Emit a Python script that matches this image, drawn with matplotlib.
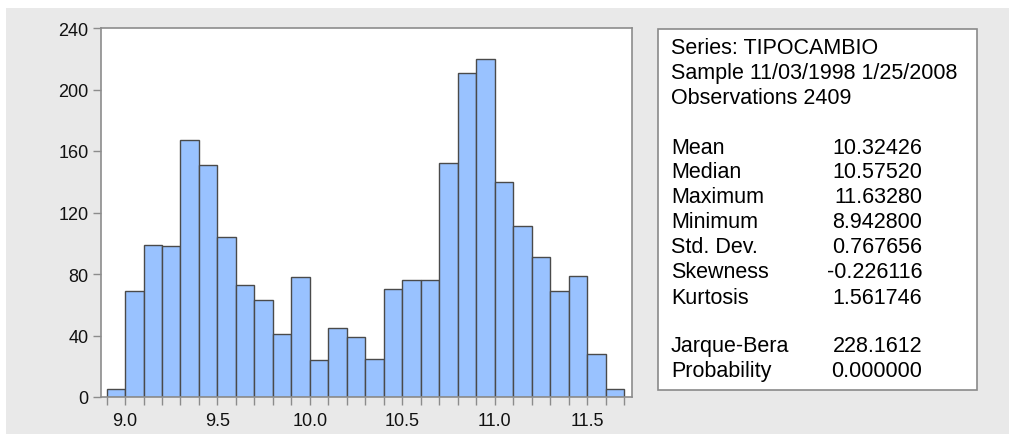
#!usr/bin/env python
#-*- coding:utf-8 -*-

# histogram of TIPOCAMBIO with the descriptive statistics box

import matplotlib
matplotlib.use('Agg')
import matplotlib.pyplot as plt
from matplotlib.patches import Rectangle

plt.rcParams['font.family'] = ['Liberation Sans', 'DejaVu Sans']

#bin left edges and counts
bin_left = [8.9, 9.0, 9.1, 9.2, 9.3, 9.4, 9.5, 9.6, 9.7, 9.8, 9.9, 10.0, 10.1, 10.2,
            10.3, 10.4, 10.5, 10.6, 10.7, 10.8, 10.9, 11.0, 11.1, 11.2, 11.3, 11.4, 11.5, 11.6]
counts = [5, 69, 99, 98, 167, 151, 104, 73, 63, 41, 78, 24, 45, 39,
          25, 70, 76, 76, 152, 211, 220, 140, 111, 91, 69, 79, 28, 5]
bin_width = 0.1

x_ticks = [9.0, 9.5, 10.0, 10.5, 11.0, 11.5]
x_tick_labels = ['9.0', '9.5', '10.0', '10.5', '11.0', '11.5']
y_ticks = [0, 40, 80, 120, 160, 200, 240]

#statistics box text
header_lines = ['Series: TIPOCAMBIO', 'Sample 11/03/1998 1/25/2008', 'Observations 2409']
stat_names = ['Mean', 'Median', 'Maximum', 'Minimum', 'Std. Dev.', 'Skewness', 'Kurtosis']
stat_values = ['10.32426', '10.57520', '11.63280', '8.942800', '0.767656', '-0.226116', '1.561746']
test_names = ['Jarque-Bera', 'Probability']
test_values = ['228.1612', '0.000000']

W, H = 1009, 435
fig = plt.figure(figsize=(W / 100.0, H / 100.0), dpi=100)
fig.patch.set_facecolor('white')

#gray background panel
fig.patches.append(Rectangle((6.0 / W, 0), 1 - 6.0 / W, (H - 9.0) / H, transform=fig.transFigure,
                             facecolor='#e9e9e9', edgecolor='none', zorder=-10))

def px_axes(left, top, right, bottom):
	return [left / W, (H - bottom) / H, (right - left) / W, (bottom - top) / H]

ax = fig.add_axes(px_axes(101, 29, 632, 398))
ax.set_zorder(1)
ax.set_facecolor('white')
ax.bar(bin_left, counts, width=bin_width, align='edge', color='#99c2ff',
       edgecolor='#4a4a4a', linewidth=1.0)

ax.set_xlim(8.87, 11.743)
ax.set_ylim(0, 240)
ax.set_xticks(x_ticks)
ax.set_xticklabels(x_tick_labels)
ax.set_xticks([b for b in bin_left] + [11.7], minor=True)
ax.set_yticks(y_ticks)
for s in ax.spines.values():
	s.set_color('#8c8c8c')
	s.set_linewidth(1.2)
ax.tick_params(axis='both', which='both', direction='out', color='#8c8c8c', width=1.0,
               labelsize=13, labelcolor='#111111')
ax.tick_params(axis='y', length=6, pad=3)
ax.tick_params(axis='x', which='both', length=6, pad=5)

#statistics box
fig.patches.append(Rectangle((658.0 / W, (H - 391.0) / H), (977.0 - 658.0) / W, (391.0 - 30.0) / H,
                             transform=fig.transFigure, facecolor='white', edgecolor='#8a8a8a',
                             linewidth=1.2, zorder=1))

def put(x, y, s, ha='left'):
	fig.text(x / W, (H - y) / H, s, ha=ha, va='center', fontsize=15.5, color='#000000', zorder=2)

y = 48
for line in header_lines:
	put(671, y, line)
	y += 25
y = 148
for name, val in zip(stat_names, stat_values):
	put(671, y, name)
	put(922, y, val, ha='right')
	y += 25
y = 347
for name, val in zip(test_names, test_values):
	put(671, y, name)
	put(922, y, val, ha='right')
	y += 25

fig.savefig('out.png', dpi=100, facecolor=fig.get_facecolor())
